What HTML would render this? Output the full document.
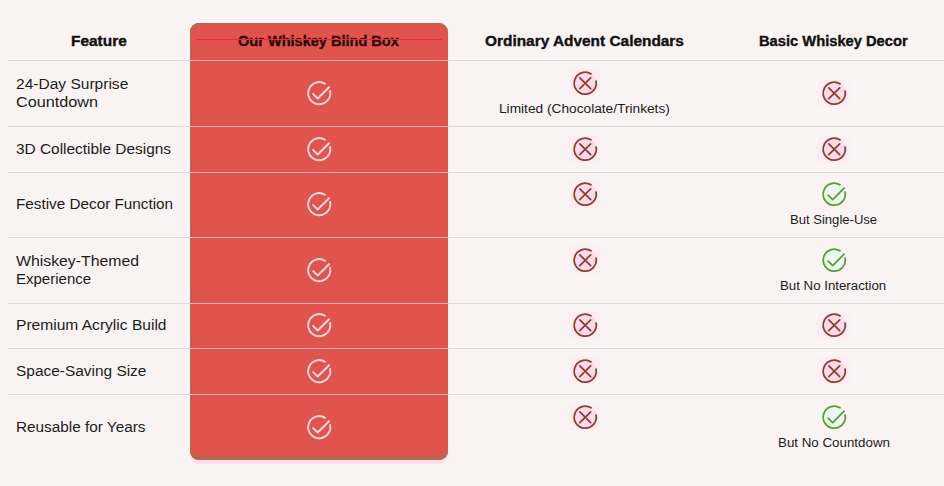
<!DOCTYPE html>
<html lang="en"><head><meta charset="utf-8"><title>Whiskey Blind Box Comparison</title>
<style>
html,body{margin:0;padding:0;width:944px;height:486px;overflow:hidden;background:#f9f3f3;}
body{position:relative;font-family:"Liberation Sans",Arial,sans-serif;color:#1c1c1c;}
.t{position:absolute;white-space:nowrap;transform-origin:0 0;}
.ln{position:absolute;left:8px;width:936px;height:1px;background:#dfd8db;}
.lr{position:absolute;left:190px;width:258px;height:1px;background:#fbb0bf;}
.box{position:absolute;left:190px;top:23px;width:258px;height:437px;background:#e1544e;border-radius:9px;box-shadow:inset 0 -4px 0 #b0694b,inset 1px 0 0 #9a7550,inset 0 1px 0 #9a7550,0 4px 0 #fcdcec;}
.ic{position:absolute;width:26.5px;height:26.5px;overflow:visible;}
</style></head><body>

<div class="ln" style="top:60px"></div>
<div class="ln" style="top:126px"></div>
<div class="ln" style="top:172px"></div>
<div class="ln" style="top:237px"></div>
<div class="ln" style="top:303px"></div>
<div class="ln" style="top:348px"></div>
<div class="ln" style="top:394px"></div>
<div class="box"></div>
<div class="lr" style="top:60px"></div>
<div class="lr" style="top:126px"></div>
<div class="lr" style="top:172px"></div>
<div class="lr" style="top:237px"></div>
<div class="lr" style="top:303px"></div>
<div class="lr" style="top:348px"></div>
<div class="lr" style="top:394px"></div>
<div class="t" style="left:70.5px;top:34px;font-size:14px;line-height:14px;font-weight:700;transform:scaleX(1.1020);color:#111;-webkit-text-stroke:0.35px #111">Feature</div>
<div class="t" style="left:238.4px;top:34px;font-size:14px;line-height:14px;font-weight:700;transform:scaleX(1.0390);color:#2b0808;-webkit-text-stroke:0.35px #2b0808">Our Whiskey Blind Box</div>
<div class="t" style="left:485.0px;top:34px;font-size:14px;line-height:14px;font-weight:700;transform:scaleX(1.1006);color:#111;-webkit-text-stroke:0.35px #111">Ordinary Advent Calendars</div>
<div class="t" style="left:758.7px;top:34px;font-size:14px;line-height:14px;font-weight:700;transform:scaleX(1.0496);color:#111;-webkit-text-stroke:0.35px #111">Basic Whiskey Decor</div>
<div class="t" style="left:15.9px;top:77px;font-size:14px;line-height:14px;font-weight:400;transform:scaleX(1.1100);color:#1c1c1c">24-Day Surprise</div>
<div class="t" style="left:15.9px;top:95px;font-size:14px;line-height:14px;font-weight:400;transform:scaleX(1.1594);color:#1c1c1c">Countdown</div>
<div class="t" style="left:15.9px;top:142px;font-size:14px;line-height:14px;font-weight:400;transform:scaleX(1.1007);color:#1c1c1c">3D Collectible Designs</div>
<div class="t" style="left:15.9px;top:197px;font-size:14px;line-height:14px;font-weight:400;transform:scaleX(1.0915);color:#1c1c1c">Festive Decor Function</div>
<div class="t" style="left:15.9px;top:254px;font-size:14px;line-height:14px;font-weight:400;transform:scaleX(1.1296);color:#1c1c1c">Whiskey-Themed</div>
<div class="t" style="left:15.9px;top:272px;font-size:14px;line-height:14px;font-weight:400;transform:scaleX(1.0725);color:#1c1c1c">Experience</div>
<div class="t" style="left:15.9px;top:318px;font-size:14px;line-height:14px;font-weight:400;transform:scaleX(1.1119);color:#1c1c1c">Premium Acrylic Build</div>
<div class="t" style="left:15.9px;top:364px;font-size:14px;line-height:14px;font-weight:400;transform:scaleX(1.1026);color:#1c1c1c">Space-Saving Size</div>
<div class="t" style="left:15.9px;top:420px;font-size:14px;line-height:14px;font-weight:400;transform:scaleX(1.0940);color:#1c1c1c">Reusable for Years</div>
<div class="t" style="left:498.9px;top:103px;font-size:12px;line-height:12px;font-weight:400;transform:scaleX(1.1419);color:#1c1c1c">Limited (Chocolate/Trinkets)</div>
<div class="t" style="left:790.0px;top:214px;font-size:12px;line-height:12px;font-weight:400;transform:scaleX(1.0886);color:#1c1c1c">But Single-Use</div>
<div class="t" style="left:780.3px;top:280px;font-size:12px;line-height:12px;font-weight:400;transform:scaleX(1.1053);color:#1c1c1c">But No Interaction</div>
<div class="t" style="left:777.8px;top:437px;font-size:12px;line-height:12px;font-weight:400;transform:scaleX(1.1111);color:#1c1c1c">But No Countdown</div>
<svg class="ic" style="left:305.9px;top:80.0px" viewBox="0 0 24 24" fill="none" stroke="#fcd8df" stroke-width="1.8" stroke-linecap="round" stroke-linejoin="round"><path d="M21.8 10A10 10 0 1 1 17.2 3.4"/><path d="M6.5 12.8L10.6 16.8L20.9 6.5"/></svg>
<svg class="ic" style="left:305.9px;top:135.9px" viewBox="0 0 24 24" fill="none" stroke="#fcd8df" stroke-width="1.8" stroke-linecap="round" stroke-linejoin="round"><path d="M21.8 10A10 10 0 1 1 17.2 3.4"/><path d="M6.5 12.8L10.6 16.8L20.9 6.5"/></svg>
<svg class="ic" style="left:305.9px;top:191.4px" viewBox="0 0 24 24" fill="none" stroke="#fcd8df" stroke-width="1.8" stroke-linecap="round" stroke-linejoin="round"><path d="M21.8 10A10 10 0 1 1 17.2 3.4"/><path d="M6.5 12.8L10.6 16.8L20.9 6.5"/></svg>
<svg class="ic" style="left:305.9px;top:256.9px" viewBox="0 0 24 24" fill="none" stroke="#fcd8df" stroke-width="1.8" stroke-linecap="round" stroke-linejoin="round"><path d="M21.8 10A10 10 0 1 1 17.2 3.4"/><path d="M6.5 12.8L10.6 16.8L20.9 6.5"/></svg>
<svg class="ic" style="left:305.9px;top:312.4px" viewBox="0 0 24 24" fill="none" stroke="#fcd8df" stroke-width="1.8" stroke-linecap="round" stroke-linejoin="round"><path d="M21.8 10A10 10 0 1 1 17.2 3.4"/><path d="M6.5 12.8L10.6 16.8L20.9 6.5"/></svg>
<svg class="ic" style="left:305.9px;top:357.9px" viewBox="0 0 24 24" fill="none" stroke="#fcd8df" stroke-width="1.8" stroke-linecap="round" stroke-linejoin="round"><path d="M21.8 10A10 10 0 1 1 17.2 3.4"/><path d="M6.5 12.8L10.6 16.8L20.9 6.5"/></svg>
<svg class="ic" style="left:305.9px;top:413.9px" viewBox="0 0 24 24" fill="none" stroke="#fcd8df" stroke-width="1.8" stroke-linecap="round" stroke-linejoin="round"><path d="M21.8 10A10 10 0 1 1 17.2 3.4"/><path d="M6.5 12.8L10.6 16.8L20.9 6.5"/></svg>
<svg class="ic" style="left:572.0px;top:69.8px" viewBox="0 0 24 24" fill="none" stroke="#933d2c" stroke-width="1.6" stroke-linecap="round" stroke-linejoin="round"><rect x="-2.5" y="-1" width="29" height="25" fill="#fbeef4" stroke="none"/><circle cx="12" cy="12" r="10.5" fill="#fbdcec" stroke="none"/><path d="M21.8 10A10 10 0 1 1 17.2 3.4"/><path d="M7.1 7.1L16.9 16.9M16.9 7.1L7.1 16.9"/></svg>
<svg class="ic" style="left:572.0px;top:135.9px" viewBox="0 0 24 24" fill="none" stroke="#933d2c" stroke-width="1.6" stroke-linecap="round" stroke-linejoin="round"><rect x="-2.5" y="-1" width="29" height="25" fill="#fbeef4" stroke="none"/><circle cx="12" cy="12" r="10.5" fill="#fbdcec" stroke="none"/><path d="M21.8 10A10 10 0 1 1 17.2 3.4"/><path d="M7.1 7.1L16.9 16.9M16.9 7.1L7.1 16.9"/></svg>
<svg class="ic" style="left:572.0px;top:181.2px" viewBox="0 0 24 24" fill="none" stroke="#933d2c" stroke-width="1.6" stroke-linecap="round" stroke-linejoin="round"><rect x="-2.5" y="-1" width="29" height="25" fill="#fbeef4" stroke="none"/><circle cx="12" cy="12" r="10.5" fill="#fbdcec" stroke="none"/><path d="M21.8 10A10 10 0 1 1 17.2 3.4"/><path d="M7.1 7.1L16.9 16.9M16.9 7.1L7.1 16.9"/></svg>
<svg class="ic" style="left:572.0px;top:246.8px" viewBox="0 0 24 24" fill="none" stroke="#933d2c" stroke-width="1.6" stroke-linecap="round" stroke-linejoin="round"><rect x="-2.5" y="-1" width="29" height="25" fill="#fbeef4" stroke="none"/><circle cx="12" cy="12" r="10.5" fill="#fbdcec" stroke="none"/><path d="M21.8 10A10 10 0 1 1 17.2 3.4"/><path d="M7.1 7.1L16.9 16.9M16.9 7.1L7.1 16.9"/></svg>
<svg class="ic" style="left:572.0px;top:312.4px" viewBox="0 0 24 24" fill="none" stroke="#933d2c" stroke-width="1.6" stroke-linecap="round" stroke-linejoin="round"><rect x="-2.5" y="-1" width="29" height="25" fill="#fbeef4" stroke="none"/><circle cx="12" cy="12" r="10.5" fill="#fbdcec" stroke="none"/><path d="M21.8 10A10 10 0 1 1 17.2 3.4"/><path d="M7.1 7.1L16.9 16.9M16.9 7.1L7.1 16.9"/></svg>
<svg class="ic" style="left:572.0px;top:357.9px" viewBox="0 0 24 24" fill="none" stroke="#933d2c" stroke-width="1.6" stroke-linecap="round" stroke-linejoin="round"><rect x="-2.5" y="-1" width="29" height="25" fill="#fbeef4" stroke="none"/><circle cx="12" cy="12" r="10.5" fill="#fbdcec" stroke="none"/><path d="M21.8 10A10 10 0 1 1 17.2 3.4"/><path d="M7.1 7.1L16.9 16.9M16.9 7.1L7.1 16.9"/></svg>
<svg class="ic" style="left:572.0px;top:403.8px" viewBox="0 0 24 24" fill="none" stroke="#933d2c" stroke-width="1.6" stroke-linecap="round" stroke-linejoin="round"><rect x="-2.5" y="-1" width="29" height="25" fill="#fbeef4" stroke="none"/><circle cx="12" cy="12" r="10.5" fill="#fbdcec" stroke="none"/><path d="M21.8 10A10 10 0 1 1 17.2 3.4"/><path d="M7.1 7.1L16.9 16.9M16.9 7.1L7.1 16.9"/></svg>
<svg class="ic" style="left:821.0px;top:80.0px" viewBox="0 0 24 24" fill="none" stroke="#933d2c" stroke-width="1.6" stroke-linecap="round" stroke-linejoin="round"><rect x="-2.5" y="-1" width="29" height="25" fill="#fbeef4" stroke="none"/><circle cx="12" cy="12" r="10.5" fill="#fbdcec" stroke="none"/><path d="M21.8 10A10 10 0 1 1 17.2 3.4"/><path d="M7.1 7.1L16.9 16.9M16.9 7.1L7.1 16.9"/></svg>
<svg class="ic" style="left:821.0px;top:135.9px" viewBox="0 0 24 24" fill="none" stroke="#933d2c" stroke-width="1.6" stroke-linecap="round" stroke-linejoin="round"><rect x="-2.5" y="-1" width="29" height="25" fill="#fbeef4" stroke="none"/><circle cx="12" cy="12" r="10.5" fill="#fbdcec" stroke="none"/><path d="M21.8 10A10 10 0 1 1 17.2 3.4"/><path d="M7.1 7.1L16.9 16.9M16.9 7.1L7.1 16.9"/></svg>
<svg class="ic" style="left:821.0px;top:181.2px" viewBox="0 0 24 24" fill="none" stroke="#5a9e30" stroke-width="1.6" stroke-linecap="round" stroke-linejoin="round"><circle cx="12" cy="12" r="10.5" fill="#eef8f2" stroke="none"/><path d="M21.8 10A10 10 0 1 1 17.2 3.4"/><path d="M6.5 12.8L10.6 16.8L20.9 6.5"/></svg>
<svg class="ic" style="left:821.0px;top:246.8px" viewBox="0 0 24 24" fill="none" stroke="#5a9e30" stroke-width="1.6" stroke-linecap="round" stroke-linejoin="round"><circle cx="12" cy="12" r="10.5" fill="#eef8f2" stroke="none"/><path d="M21.8 10A10 10 0 1 1 17.2 3.4"/><path d="M6.5 12.8L10.6 16.8L20.9 6.5"/></svg>
<svg class="ic" style="left:821.0px;top:312.4px" viewBox="0 0 24 24" fill="none" stroke="#933d2c" stroke-width="1.6" stroke-linecap="round" stroke-linejoin="round"><rect x="-2.5" y="-1" width="29" height="25" fill="#fbeef4" stroke="none"/><circle cx="12" cy="12" r="10.5" fill="#fbdcec" stroke="none"/><path d="M21.8 10A10 10 0 1 1 17.2 3.4"/><path d="M7.1 7.1L16.9 16.9M16.9 7.1L7.1 16.9"/></svg>
<svg class="ic" style="left:821.0px;top:357.9px" viewBox="0 0 24 24" fill="none" stroke="#933d2c" stroke-width="1.6" stroke-linecap="round" stroke-linejoin="round"><rect x="-2.5" y="-1" width="29" height="25" fill="#fbeef4" stroke="none"/><circle cx="12" cy="12" r="10.5" fill="#fbdcec" stroke="none"/><path d="M21.8 10A10 10 0 1 1 17.2 3.4"/><path d="M7.1 7.1L16.9 16.9M16.9 7.1L7.1 16.9"/></svg>
<svg class="ic" style="left:821.0px;top:403.8px" viewBox="0 0 24 24" fill="none" stroke="#5a9e30" stroke-width="1.6" stroke-linecap="round" stroke-linejoin="round"><circle cx="12" cy="12" r="10.5" fill="#eef8f2" stroke="none"/><path d="M21.8 10A10 10 0 1 1 17.2 3.4"/><path d="M6.5 12.8L10.6 16.8L20.9 6.5"/></svg>
<div style="position:absolute;left:196px;top:39px;width:246px;height:1px;background:#f3254b"></div>
</body></html>
